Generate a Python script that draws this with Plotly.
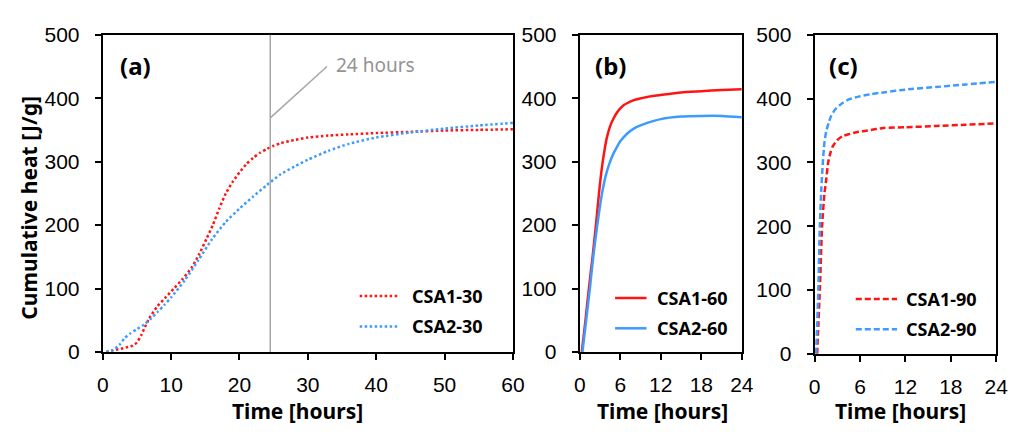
import plotly.graph_objects as go

# ---------------- data ----------------
# (a) 30 °C
t_csa1_30 = [0.5, 1.5, 3, 4.4, 5, 5.6, 6.2, 6.8, 8, 9.2, 10.4, 11.6, 13, 14, 15.2, 16.1, 17, 18, 19, 20,
             21, 22, 23, 24, 25, 26, 28, 30, 33, 36, 40, 45, 50, 55, 60]
q_csa1_30 = [0, 2.5, 6, 10, 15, 26, 40, 53, 72, 86, 100, 114, 133, 152, 179, 200, 225, 250, 268, 283,
             296, 306, 314, 320, 325, 329, 334, 338, 341, 343, 345, 347, 349, 350, 351]
t_csa2_30 = [0.5, 1.5, 2.5, 3.2, 4, 5, 6, 7, 8, 9, 10, 12, 14, 16, 18, 20, 22, 24, 26, 28, 30, 33, 36,
             40, 45, 50, 55, 60]
q_csa2_30 = [0, 3, 12, 22, 29, 36, 43, 52, 63, 74, 86, 113, 145, 178, 205, 226, 245, 263, 280, 292, 303,
             317, 328, 338, 346, 352, 357, 361]

# (b) 60 °C
t_csa1_60 = [0.3, 0.8, 1.35, 1.9, 2.4, 2.85, 3.3, 3.7, 4.0, 4.5, 5.0, 5.5, 6, 6.5, 7, 8, 10, 12, 15, 18,
             21, 24]
q_csa1_60 = [0, 45, 100, 150, 200, 250, 292, 320, 337, 356, 368, 377, 384, 389, 392, 397, 402, 405, 409,
             411, 413, 414]
t_csa2_60 = [0.4, 0.9, 1.5, 2.0, 2.6, 3.3, 3.9, 4.5, 5.0, 5.5, 6, 7, 8, 9, 10, 12, 15, 18, 21, 24]
q_csa2_60 = [0, 45, 100, 150, 200, 250, 280, 300, 313, 323, 332, 344, 352, 357, 361, 367, 371, 372, 372, 370]

# (c) 90 °C
t_csa1_90 = [0.35, 0.45, 0.7, 1.0, 1.3, 1.55, 1.8, 2.1, 2.4, 3.0, 3.7, 4.5, 5.8, 7, 9.1, 12, 16, 20, 24]
q_csa1_90 = [0, 30, 100, 200, 250, 274, 300, 315, 325, 335, 341, 344, 348, 350, 354, 355, 357, 359, 361]
t_csa2_90 = [0.2, 0.3, 0.5, 0.7, 0.9, 1.1, 1.3, 1.55, 1.9, 2.2, 2.8, 3.7, 4.6, 5.8, 7.5, 9.3, 12, 16, 20, 24]
q_csa2_90 = [0, 30, 100, 200, 260, 300, 330, 349, 363, 373, 384, 393, 399, 403, 407, 410, 414, 418, 422, 426]

y_ticks = [0, 100, 200, 300, 400, 500]
x_ticks_a = [0, 10, 20, 30, 40, 50, 60]
x_ticks_bc = [0, 6, 12, 18, 24]
marker_time = 24.5
panel_labels = ["(a)", "(b)", "(c)"]
legend_names = ["CSA1-30", "CSA2-30", "CSA1-60", "CSA2-60", "CSA1-90", "CSA2-90"]

RED = "#FF1414"
BLUE = "#3D9BFF"
DOT = "2.5px,2.5px"
DASH = "6px,3px"
W, H = 1024, 434
TITLE_FONT = dict(family="Noto Sans", size=21, color="black", weight="bold")
TICK_FONT = dict(family="Liberation Sans, Arial", size=21, color="black")


def px(x):
    return x / W


def py(y):
    return 1 - y / H


fig = go.Figure()

series = [
    (t_csa1_30, q_csa1_30, RED, DOT, "x", "y", legend_names[0]),
    (t_csa2_30, q_csa2_30, BLUE, DOT, "x", "y", legend_names[1]),
    (t_csa1_60, q_csa1_60, RED, "solid", "x2", "y2", legend_names[2]),
    (t_csa2_60, q_csa2_60, BLUE, "solid", "x2", "y2", legend_names[3]),
    (t_csa1_90, q_csa1_90, RED, DASH, "x3", "y3", legend_names[4]),
    (t_csa2_90, q_csa2_90, BLUE, DASH, "x3", "y3", legend_names[5]),
]
for t, q, col, dash, xa, ya, name in series:
    fig.add_trace(go.Scatter(
        x=t, y=q, mode="lines", name=name, xaxis=xa, yaxis=ya, showlegend=False,
        line=dict(color=col, width=2.5, dash=dash, shape="spline", smoothing=0.6),
    ))

axis_common = dict(
    showline=True, linecolor="black", linewidth=2, mirror=True,
    ticks="outside", ticklen=6, tickwidth=1.5, tickcolor="black",
    showgrid=False, zeroline=False, tickfont=TICK_FONT,
)
xstyle = dict(axis_common, ticklabelstandoff=7)
ystyle = dict(axis_common, ticklabelstandoff=11)

dom_a = [px(98.5), px(516)]
dom_b = [px(584), px(749)]
dom_c = [px(823), px(1008)]
ydom = [py(359), py(24)]
ydom_c = [py(361), py(24)]

fig.update_layout(
    width=W, height=H, margin=dict(l=0, r=0, t=0, b=0),
    paper_bgcolor="white", plot_bgcolor="white", showlegend=False,
    xaxis=dict(domain=dom_a, range=[0, 60], tickvals=x_ticks_a, anchor="y", **xstyle),
    yaxis=dict(domain=ydom, range=[0, 500], tickvals=y_ticks, anchor="x", **ystyle),
    xaxis2=dict(domain=dom_b, range=[0, 24], tickvals=x_ticks_bc, anchor="y2", **xstyle),
    yaxis2=dict(domain=ydom, range=[0, 500], tickvals=y_ticks, anchor="x2", **ystyle),
    xaxis3=dict(domain=dom_c, range=[0, 24], tickvals=x_ticks_bc, anchor="y3", **xstyle),
    yaxis3=dict(domain=ydom_c, range=[0, 500], tickvals=y_ticks, anchor="x3", **ystyle),
)

# 24-hour marker line and pointer in panel (a)
fig.add_shape(type="line", xref="x", yref="y domain", x0=marker_time, x1=marker_time, y0=0, y1=1,
              line=dict(color="#A6A6A6", width=1.5))
fig.add_shape(type="line", xref="x", yref="y", x0=marker_time, y0=369, x1=32.8, y1=450,
              line=dict(color="#A6A6A6", width=1.5))
fig.add_annotation(xref="paper", yref="paper", x=px(334), y=py(56), xanchor="left", yanchor="middle",
                   text="24 hours", showarrow=False,
                   font=dict(family="Noto Sans", size=19, color="#939393"))

# panel labels
for lab, cx in zip(panel_labels, [132, 615, 852]):
    fig.add_annotation(xref="paper", yref="paper", x=px(cx), y=py(56), xanchor="center", yanchor="middle",
                       text=lab, showarrow=False,
                       font=dict(family="Noto Sans", size=24, color="black", weight="bold"))

# legends (drawn as sample lines + labels)
legend_specs = [
    (360, 400, 411, 300, 332, DOT, legend_names[0:2]),
    (620, 652, 661, 302, 334, "solid", legend_names[2:4]),
    (865, 907, 914, 303, 335, DASH, legend_names[4:6]),
]
for x0, x1, tx, r1, r2, dash, names in legend_specs:
    for ry, col, nm in [(r1, RED, names[0]), (r2, BLUE, names[1])]:
        fig.add_shape(type="line", xref="paper", yref="paper", x0=px(x0), x1=px(x1), y0=py(ry), y1=py(ry),
                      line=dict(color=col, width=2.5, dash=dash))
        fig.add_annotation(xref="paper", yref="paper", x=px(tx), y=py(ry), xanchor="left", yanchor="middle",
                           text=nm, showarrow=False,
                           font=dict(family="Noto Sans", size=18, color="black", weight="bold"))

# axis titles
for cx in [297, 668, 910]:
    fig.add_annotation(xref="paper", yref="paper", x=px(cx), y=py(421), xanchor="center", yanchor="middle",
                       text="Time [hours]", showarrow=False, font=TITLE_FONT)
fig.add_annotation(xref="paper", yref="paper", x=px(23), y=py(207), xanchor="center", yanchor="middle",
                   text="Cumulative heat [J/g]", textangle=-90, showarrow=False, font=TITLE_FONT)

fig.write_html("out.html")
